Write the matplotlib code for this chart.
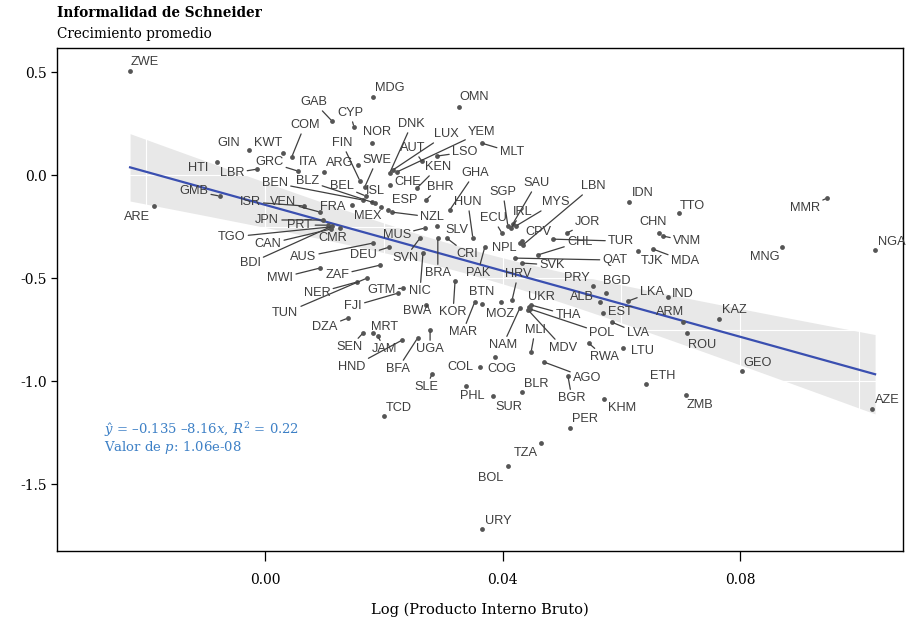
import numpy as np
import matplotlib
matplotlib.use("Agg")
import matplotlib.pyplot as plt
from matplotlib.ticker import MultipleLocator

# Datos: crecimiento del PIB (log) vs informalidad
paises = ['ZWE', 'GAB', 'CYP', 'MDG', 'OMN', 'COM', 'GIN', 'KWT', 'HTI', 'LBR',
          'GRC', 'ITA', 'GMB', 'ARE', 'BEN', 'BLZ', 'BEL', 'ISL', 'SWE', 'FIN',
          'ARG', 'NOR', 'DNK', 'LUX', 'YEM', 'AUT', 'LSO', 'KEN', 'MLT', 'CHE',
          'BHR', 'ESP', 'GHA', 'HUN', 'SGP', 'ECU', 'IRL', 'SAU', 'MYS', 'LBN',
          'IDN', 'TTO', 'MMR', 'CHN', 'VNM', 'TJK', 'MDA', 'MNG', 'NGA', 'LKA',
          'IND', 'ARM', 'KAZ', 'ROU', 'GEO', 'LVA', 'LTU', 'EST', 'ETH', 'ZMB',
          'AZE', 'KHM', 'VEN', 'ISR', 'FRA', 'MEX', 'NZL', 'JPN', 'PRT', 'TGO',
          'CAN', 'BDI', 'CMR', 'AUS', 'DEU', 'MUS', 'MWI', 'ZAF', 'NER', 'TUN',
          'GTM', 'FJI', 'DZA', 'MRT', 'SEN', 'JAM', 'HND', 'BFA', 'UGA', 'BWA',
          'NIC', 'SVN', 'BRA', 'KOR', 'CRI', 'SLV', 'PAK', 'NPL', 'CPV', 'JOR',
          'CHL', 'TUR', 'QAT', 'SVK', 'HRV', 'BTN', 'MAR', 'MOZ', 'NAM', 'UKR',
          'MLI', 'THA', 'POL', 'MDV', 'RWA', 'PRY', 'BGD', 'ALB', 'AGO', 'BGR',
          'BLR', 'SUR', 'PHL', 'SLE', 'TCD', 'PER', 'TZA', 'BOL', 'URY', 'COL',
          'COG']

log_pib = [-0.0227, 0.0113, 0.0150, 0.0182, 0.0326, 0.0045, -0.0027, 0.0030, -0.0081, -0.0013,
           0.0056, 0.0099, -0.0076, -0.0187, 0.0165, 0.0185, 0.0170, 0.0180, 0.0168, 0.0160,
           0.0157, 0.0180, 0.0210, 0.0215, 0.0222, 0.0264, 0.0289, 0.0256, 0.0365, 0.0210,
           0.0271, 0.0207, 0.0311, 0.0350, 0.0409, 0.0399, 0.0414, 0.0417, 0.0422, 0.0434,
           0.0613, 0.0697, 0.0946, 0.0663, 0.0670, 0.0628, 0.0653, 0.0870, 0.1027, 0.0611,
           0.0678, 0.0703, 0.0764, 0.0710, 0.0803, 0.0584, 0.0602, 0.0569, 0.0641, 0.0709,
           0.1022, 0.0571, 0.0093, 0.0066, 0.0146, 0.0195, 0.0214, 0.0098, 0.0106, 0.0109,
           0.0111, 0.0113, 0.0126, 0.0182, 0.0209, 0.0269, 0.0093, 0.0194, 0.0155, 0.0172,
           0.0232, 0.0224, 0.0140, 0.0182, 0.0165, 0.0190, 0.0231, 0.0257, 0.0278, 0.0271,
           0.0266, 0.0261, 0.0291, 0.0320, 0.0306, 0.0289, 0.0370, 0.0429, 0.0433, 0.0508,
           0.0459, 0.0485, 0.0421, 0.0433, 0.0416, 0.0365, 0.0353, 0.0397, 0.0429, 0.0444,
           0.0448, 0.0448, 0.0446, 0.0443, 0.0545, 0.0552, 0.0574, 0.0564, 0.0470, 0.0510,
           0.0433, 0.0384, 0.0338, 0.0281, 0.0200, 0.0513, 0.0464, 0.0409, 0.0365, 0.0362,
           0.0387]

informalidad = [0.505, 0.262, 0.233, 0.379, 0.330, 0.087, 0.121, 0.107, 0.063, 0.029,
                0.019, 0.015, -0.102, -0.150, -0.121, -0.136, -0.102, -0.131, -0.058, -0.029,
                0.049, 0.155, 0.010, 0.024, 0.015, 0.068, 0.092, -0.063, 0.155, -0.049,
                -0.121, -0.170, -0.170, -0.306, -0.248, -0.282, -0.257, -0.238, -0.248, -0.340,
                -0.131, -0.184, -0.112, -0.282, -0.296, -0.369, -0.359, -0.350, -0.364, -0.612,
                -0.592, -0.714, -0.699, -0.767, -0.951, -0.714, -0.840, -0.670, -1.015, -1.068,
                -1.136, -1.087, -0.180, -0.150, -0.146, -0.155, -0.180, -0.218, -0.243, -0.252,
                -0.262, -0.248, -0.257, -0.330, -0.350, -0.257, -0.451, -0.437, -0.519, -0.500,
                -0.549, -0.573, -0.694, -0.767, -0.767, -0.782, -0.801, -0.791, -0.752, -0.631,
                -0.379, -0.306, -0.306, -0.515, -0.306, -0.248, -0.350, -0.330, -0.320, -0.282,
                -0.388, -0.311, -0.403, -0.427, -0.607, -0.626, -0.617, -0.617, -0.646, -0.641,
                -0.859, -0.631, -0.650, -0.655, -0.816, -0.539, -0.573, -0.617, -0.908, -0.976,
                -1.053, -1.073, -1.024, -0.966, -1.170, -1.228, -1.301, -1.413, -1.718, -0.932,
                -0.883]

# desplazamiento de cada etiqueta respecto a su punto (pixeles), estilo ggrepel
desplazamientos = [(15, 9), (-18, 19), (-4, 14), (17, 9), (16, 10), (13, 32), (-20, 7), (-15, 10), (-19, -6), (-25, -4),
                   (-29, 9), (-16, 10), (-26, 5), (-17, -11), (-88, 17), (-67, 22), (-24, 10), (4, 11), (12, 27), (-18, 38),
                   (-18, 2), (5, 11), (22, 49), (54, 36), (85, 40), (-9, 13), (28, 4), (21, 21), (30, -9), (18, 3),
                   (14, 13), (17, 10), (25, 37), (-5, 36), (-5, 34), (-9, 15), (12, 16), (24, 41), (40, 24), (70, 59),
                   (14, 9), (13, 7), (-22, -10), (-6, 11), (24, -5), (14, -10), (32, -12), (-17, -10), (17, 8), (24, 9),
                   (15, 3), (-13, 10), (16, 9), (15, -12), (16, 8), (26, -11), (20, -3), (17, 1), (17, 8), (14, -10),
                   (15, 9), (18, -9), (-37, 10), (-54, 4), (-19, -2), (-13, -9), (40, -5), (-56, 0), (-28, 0), (-98, -10),
                   (-63, -15), (-82, -37), (-7, -10), (-70, -14), (-26, -8), (-28, -7), (-40, -10), (-43, -10), (-40, -11), (-82, -35),
                   (-21, -2), (-45, -13), (-23, -9), (12, 6), (-13, -14), (7, -13), (-50, -27), (-20, -31), (0, -19), (-9, -6),
                   (-3, -38), (-15, -20), (0, -35), (-2, -31), (21, -16), (20, -4), (-7, -26), (-16, -5), (16, 9), (21, 11),
                   (42, 13), (68, -2), (100, -2), (30, -2), (6, 26), (0, 12), (-12, -30), (-1, -12), (-17, -37), (13, 10),
                   (4, 22), (37, -10), (72, -24), (35, -38), (16, -14), (-16, 8), (11, 12), (-18, 5), (43, -16), (4, -22),
                   (14, 8), (16, -11), (7, -10), (-5, -13), (15, 8), (15, 9), (-15, -10), (-17, -12), (17, 8), (-20, 0),
                   (7, -12)]

x = np.array(log_pib)
y = np.array(informalidad)

# Ajuste lineal e intervalo de confianza al 95 %
pendiente, intercepto = np.polyfit(x, y, 1)
n = len(x)
resid = y - (intercepto + pendiente * x)
s = np.sqrt(np.sum(resid ** 2) / (n - 2))
xs = np.linspace(x.min(), x.max(), 200)
ys = intercepto + pendiente * xs
se = s * np.sqrt(1 / n + (xs - x.mean()) ** 2 / np.sum((x - x.mean()) ** 2))
t = 1.979

plt.rcParams['mathtext.fontset'] = 'dejavuserif'

fig = plt.figure(figsize=(9.09, 6.24), dpi=100)
ax = fig.add_axes([57 / 909, 73 / 624, 846 / 909, 503 / 624])

ax.fill_between(xs, ys - t * se, ys + t * se, color='#e8e8e8', lw=0, zorder=0.3)
ax.plot(xs, ys, color='#3a4fb0', lw=1.6, zorder=2)
ax.scatter(x, y, s=12, color='#555555', lw=0, zorder=3)

for nombre, xi, yi, (dx, dy) in zip(paises, x, y, desplazamientos):
    flecha = None
    if abs(dx) > 20 or abs(dy) > 12:
        flecha = dict(arrowstyle='-', color='#3f3f3f', lw=0.9, shrinkA=0, shrinkB=1.5)
    ax.annotate(nombre, (xi, yi), xytext=(dx, dy), textcoords='offset pixels',
                ha='center', va='center', fontsize=9.2, color='#3d3d3d',
                family='Liberation Sans', arrowprops=flecha, zorder=4)

ax.set_xlim(-0.035, 0.1074)
ax.set_ylim(-1.825, 0.617)
ax.set_xticks([0.0, 0.04, 0.08])
ax.set_xticklabels(['0.00', '0.04', '0.08'])
ax.set_yticks([0.5, 0.0, -0.5, -1.0, -1.5])
ax.set_yticklabels(['0.5', '0.0', '-0.5', '-1.0', '-1.5'])
ax.xaxis.set_minor_locator(MultipleLocator(0.02))
ax.yaxis.set_minor_locator(MultipleLocator(0.25))
ax.tick_params(which='minor', length=0)
ax.tick_params(axis='x', which='major', direction='out', length=7, width=0.9, labelsize=10, pad=9)
ax.tick_params(axis='y', which='major', direction='out', length=4, width=0.9, labelsize=10, pad=3)
for lab in ax.get_xticklabels() + ax.get_yticklabels():
    lab.set_family('DejaVu Serif')
ax.grid(which='both', color='white', lw=0.8)
ax.set_axisbelow(True)
for sp in ax.spines.values():
    sp.set_linewidth(1.0)

fig.text(57 / 909, 1 - 13 / 624, 'Informalidad de Schneider', fontsize=9.8,
         fontweight='bold', family='DejaVu Serif', va='center', ha='left')
fig.text(57 / 909, 1 - 34 / 624, 'Crecimiento promedio', fontsize=9.8,
         family='DejaVu Serif', va='center', ha='left')
fig.text(480 / 909, 1 - 610 / 624, 'Log (Producto Interno Bruto)', fontsize=10.5,
         family='DejaVu Serif', va='center', ha='center')

fig.text(104 / 909, 1 - 430 / 624, r'$\hat{y}$ = –0.135 –8.16$x$, $R^2$ = 0.22',
         fontsize=9.5, family='DejaVu Serif', color='#3d80c6', va='center', ha='left')
fig.text(104 / 909, 1 - 448 / 624, r'Valor de $p$: 1.06e-08',
         fontsize=9.5, family='DejaVu Serif', color='#3d80c6', va='center', ha='left')

fig.savefig('out.png', dpi=100)
